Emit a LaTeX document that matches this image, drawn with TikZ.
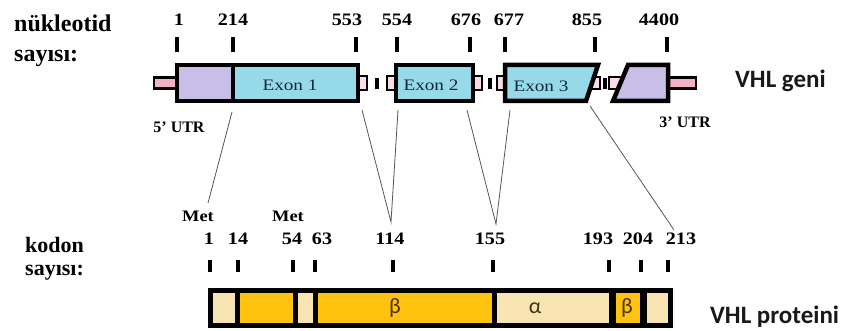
\documentclass[tikz,border=0pt]{standalone}
\usepackage{fontspec}
\setmainfont{Liberation Serif}
\newfontfamily\sansf{Carlito}
\newfontfamily\numf[FakeStretch=1.15]{Liberation Serif}
\newfontfamily\exf[FakeStretch=1.2]{Liberation Serif}
\definecolor{lav}{RGB}{200,190,232}
\definecolor{lblue}{RGB}{150,218,234}
\definecolor{lpink}{RGB}{244,176,200}
\definecolor{cream}{RGB}{247,228,178}
\definecolor{gold}{RGB}{255,194,14}
\definecolor{exontxt}{RGB}{20,40,55}
\definecolor{conn}{RGB}{85,85,85}
\definecolor{greektxt}{RGB}{70,50,20}
\begin{document}
\begin{tikzpicture}[x=1pt,y=-1pt,
  boxline/.style={draw=black,line width=4.5pt,line join=miter},
  stubbox/.style={draw=black,line width=2.8pt,fill=lpink!45},
  tickline/.style={line width=3.2pt},
  numlab/.style={font=\fontsize{17.5}{17.5}\selectfont\numf\bfseries,inner sep=0pt},
  metlab/.style={font=\fontsize{16}{16}\selectfont\numf\bfseries,inner sep=0pt},
  utrlab/.style={font=\fontsize{16}{16}\selectfont\bfseries,inner sep=0pt},
  titlelab/.style={font=\fontsize{24}{24}\selectfont\bfseries,inner sep=0pt,anchor=base west},
  codlab/.style={font=\fontsize{22}{22}\selectfont\bfseries,inner sep=0pt,anchor=base west},
  sidelab/.style={font=\fontsize{25}{25}\selectfont\sansf\bfseries,inner sep=0pt,anchor=base west,text=black!90},
  exonlab/.style={font=\fontsize{16}{16}\selectfont\exf,inner sep=0pt,text=exontxt},
  greek/.style={font=\fontsize{22}{22}\selectfont\sansf,inner sep=0pt,text=greektxt},
  connline/.style={draw=conn,line width=0.8pt},
  divline/.style={line width=5pt}
]
\useasboundingbox (0,0) rectangle (853,331);

% ---------- left titles ----------
\node[titlelab] (t1) at (14,32) {nükleotid};
\node[titlelab] (t2) at (14,62) {sayısı:};
\node[codlab] (k1) at (25,252) {kodon};
\node[codlab] (k2) at (25,275) {sayısı:};

% ---------- gene row ----------
% stubs (drawn first)
\draw[stubbox,fill=lpink] (154,77.5) rectangle (177,88.5);
\draw[stubbox] (358,76) rectangle (367,90);
\draw[line width=3.2pt] (377,78) -- (377,89);
\draw[stubbox] (387,76) rectangle (396,90);
\draw[stubbox] (473,76) rectangle (482,90);
\draw[line width=3.2pt] (490,78) -- (490,89);
\draw[stubbox] (497,76) rectangle (505,90);
\draw[stubbox] (588,77) rectangle (600,89);
\draw[line width=3.2pt] (605,78) -- (605,89);
\draw[stubbox] (609,77) rectangle (622,89);
\draw[stubbox,fill=lpink] (668,77.5) rectangle (696,88.5);

% first box (5' UTR + exon 1)
\fill[lav] (177,65) rectangle (233,101);
\fill[lblue] (233,65) rectangle (358,101);
\draw[line width=4pt] (233,65) -- (233,101);
\draw[boxline] (177,65) rectangle (358,101);
\node[exonlab] (e1) at (290,85) {Exon 1};

% exon 2
\draw[boxline,fill=lblue] (396,65) rectangle (473,101);
\node[exonlab] (e2) at (431,85) {Exon 2};

% exon 3
\draw[boxline,fill=lblue] (505,65) -- (598,65) -- (586,101) -- (505,101) -- cycle;
\node[exonlab] (e3) at (541,86) {Exon 3};

% 3' box
\draw[boxline,fill=lav] (628,65) -- (668,65) -- (668,101) -- (613,101) -- cycle;

% side labels
\node[utrlab] (u5) at (179,127) {5' UTR};
\node[utrlab] (u3) at (685,122) {3' UTR};
\node[sidelab] (vg) at (735,88) {VHL geni};
\node[sidelab] (vp) at (710,323) {VHL proteini};

% nucleotide numbers and ticks
\foreach \nm/\lx/\tx in {1/179/177, 214/233/233, 553/347/356, 554/397/397, 676/466/470, 677/509/505, 855/587/595, 4400/659/667}{
  \node[numlab] (n\nm) at (\lx,20) {\nm};
  \draw[tickline] (\tx,37) -- (\tx,52);
}

% ---------- protein row ----------
\fill[cream] (210,290) rectangle (237,326);
\fill[gold]  (237,290) rectangle (295,326);
\fill[cream] (295,290) rectangle (315,326);
\fill[gold]  (315,290) rectangle (494,326);
\fill[cream] (494,290) rectangle (612,326);
\fill[gold]  (612,290) rectangle (642,326);
\fill[cream] (642,290) rectangle (671,326);
\foreach \dx in {237,295,315,494}{\draw[divline] (\dx,290) -- (\dx,326);}
\draw[line width=7pt] (612,290) -- (612,326);
\draw[line width=7pt] (643,290) -- (643,326);
\draw[line width=5pt] (210.5,290.5) rectangle (670.5,325.5);
\node[greek] (b1) at (395,308) {β};
\node[greek] (a1) at (535,308) {α};
\node[greek] (b2) at (627,308) {β};

% codon numbers and ticks
\foreach \nm/\lx/\tx in {1/209/210, 14/238/238, 54/292/293, 63/322/315, 114/390/393, 155/490/493, 193/598/609, 204/638/641, 213/681/668}{
  \node[numlab] (c\nm) at (\lx,239) {\nm};
  \draw[tickline] (\tx,260) -- (\tx,272);
}
\node[metlab] (m1) at (198,216) {Met};
\node[metlab] (m2) at (288,216) {Met};

% ---------- connectors ----------
\coordinate (g214) at (232,112);
\coordinate (g553) at (362,110);
\coordinate (g554) at (398,110);
\coordinate (g676) at (467,110);
\coordinate (g677) at (510,110);
\coordinate (g855) at (590,106);
\coordinate (p1) at (208,203);
\coordinate (p114) at (391,222);
\coordinate (p155) at (496,224);
\coordinate (p213) at (674,230);
\draw[connline] (g214) -- (p1);
\draw[connline] (g553) -- (p114) -- (g554);
\draw[connline] (g676) -- (p155) -- (g677);
\draw[connline] (g855) -- (p213);
\end{tikzpicture}
\end{document}
